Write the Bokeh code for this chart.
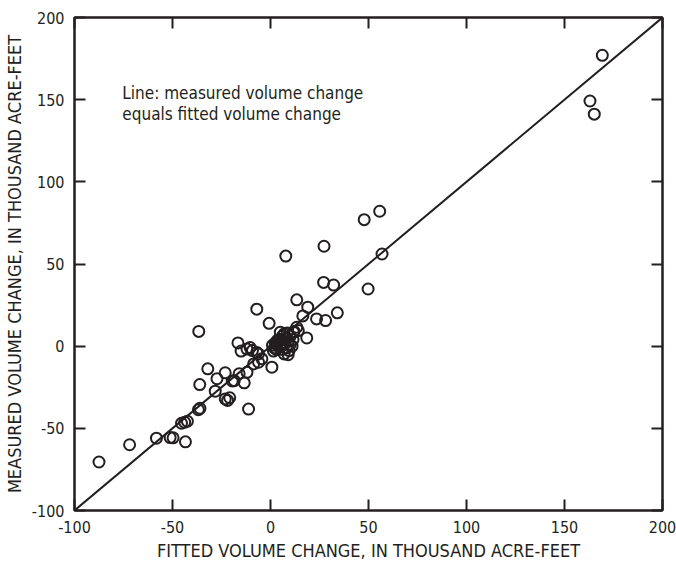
from bokeh.plotting import figure
from bokeh.models import Range1d, LinearAxis, FixedTicker, Label
from bokeh.embed import file_html
from bokeh.resources import INLINE

# Data: fitted (x) and measured (y) volume change, thousand acre-feet
fitted = [
    -87.5, -71.9, -58.2, -51.2, -49.7, -43.4, -45.4, -43.8, -42.4, -36.8,
    -36.0, -36.1, -32.0, -36.6, -28.2, -27.3, -23.1, -23.1, -21.9, -20.8,
    -19.5, -18.5, -13.4, -16.0, -12.0, -11.2, -16.6, -15.0, -12.0, -10.4,
    -9.2, -7.0, -8.6, -6.1, -4.4, -6.1, -7.0, -0.7, 0.7,
    2.0, 3.0, 4.0, 5.0, 6.0, 7.0, 8.0, 9.0, 10.0, 11.0,
    7.0, 9.5, 4.5, 6.5, 8.5, 10.0, 3.5, 5.5, 12.0, 11.5,
    1.0, 2.5, 8.0, 6.0, 9.0, 1.5, 5.0, 7.5, 3.0,
    11.7, 13.4, 14.2, 18.5, 13.4, 19.0, 16.5, 23.5, 28.1, 34.1,
    7.8, 27.3, 27.1, 32.2, 49.8, 47.8, 55.7, 56.9,
    169.3, 163.0, 165.2,
]
measured = [
    -70.5, -60.0, -56.0, -55.6, -55.8, -58.2, -46.9, -46.3, -45.7, -38.7,
    -37.8, -23.4, -13.8, 9.0, -27.4, -19.8, -16.2, -32.1, -33.0, -31.4,
    -21.2, -21.0, -22.3, -16.8, -15.9, -38.3, 2.0, -3.0, -1.8, -0.8,
    -2.7, -3.8, -10.8, -9.8, -7.7, -4.7, 22.5, 13.9, -12.8,
    -1.0, 1.0, 2.5, 4.0, 6.0, 7.5, 5.0, 3.0, 1.0, 0.0,
    -4.7, -2.7, -0.5, 1.5, 8.0, 6.0, 3.5, 0.0, 9.0, 4.0,
    0.5, 2.0, -1.0, -2.0, -5.2, -3.0, 8.5, 2.0, -2.0,
    8.5, 11.5, 9.5, 5.0, 28.2, 23.7, 18.4, 16.6, 15.6, 20.3,
    54.8, 60.8, 38.8, 37.2, 34.8, 77.0, 82.1, 56.1,
    177.0, 149.2, 141.2,
]
line_x = [-100, 200]
line_y = [-100, 200]
ticks = [-100, -50, 0, 50, 100, 150, 200]
tick_labels = {t: str(t) for t in ticks}
no_labels = {t: "" for t in ticks}

FONT = "DejaVu Sans Condensed"
INK = "#231f20"

p = figure(width=676, height=566, output_backend="svg", toolbar_location=None,
           x_range=Range1d(-100, 200), y_range=Range1d(-100, 200),
           min_border_left=72, min_border_right=14, min_border_top=17,
           min_border_bottom=56, x_axis_location=None, y_axis_location=None)
p.grid.visible = False
p.outline_line_color = INK
p.outline_line_width = 2
p.background_fill_color = "white"
p.border_fill_color = "white"

def style(ax, show_labels):
    ax.ticker = FixedTicker(ticks=ticks)
    ax.major_label_overrides = tick_labels if show_labels else no_labels
    ax.major_tick_in = 11
    ax.major_tick_out = 0
    ax.minor_tick_line_color = None
    ax.major_tick_line_width = 2
    ax.major_tick_line_color = INK
    ax.axis_line_color = INK
    ax.axis_line_width = 2
    ax.major_label_text_font = FONT
    ax.major_label_text_font_size = "16px"
    ax.major_label_text_color = INK
    ax.axis_label_text_font = FONT
    ax.axis_label_text_font_size = "18px"
    ax.axis_label_text_font_style = "normal"
    ax.axis_label_text_color = INK

bottom = LinearAxis(axis_label="FITTED VOLUME CHANGE, IN THOUSAND ACRE-FEET")
style(bottom, True)
bottom.major_label_standoff = 10
bottom.axis_label_standoff = 4
left = LinearAxis(axis_label="MEASURED VOLUME CHANGE, IN THOUSAND ACRE-FEET")
style(left, True)
left.major_label_standoff = 10
left.axis_label_standoff = 4
top = LinearAxis()
style(top, False)
top.major_label_standoff = 0
right = LinearAxis()
style(right, False)
right.major_label_standoff = 0
p.add_layout(bottom, "below")
p.add_layout(left, "left")
p.add_layout(top, "above")
p.add_layout(right, "right")

p.line(line_x, line_y, line_color=INK, line_width=2)
p.scatter(fitted, measured, marker="circle", size=11, fill_color=None,
          line_color=INK, line_width=2)

p.add_layout(Label(x=-75.6, y=154.3, text="Line: measured volume change",
                   text_font=FONT, text_font_size="17px", text_color=INK,
                   text_baseline="middle"))
p.add_layout(Label(x=-75.6, y=141.5, text="equals fitted volume change",
                   text_font=FONT, text_font_size="17px", text_color=INK,
                   text_baseline="middle"))

open("out.html", "w").write(file_html(p, INLINE))
